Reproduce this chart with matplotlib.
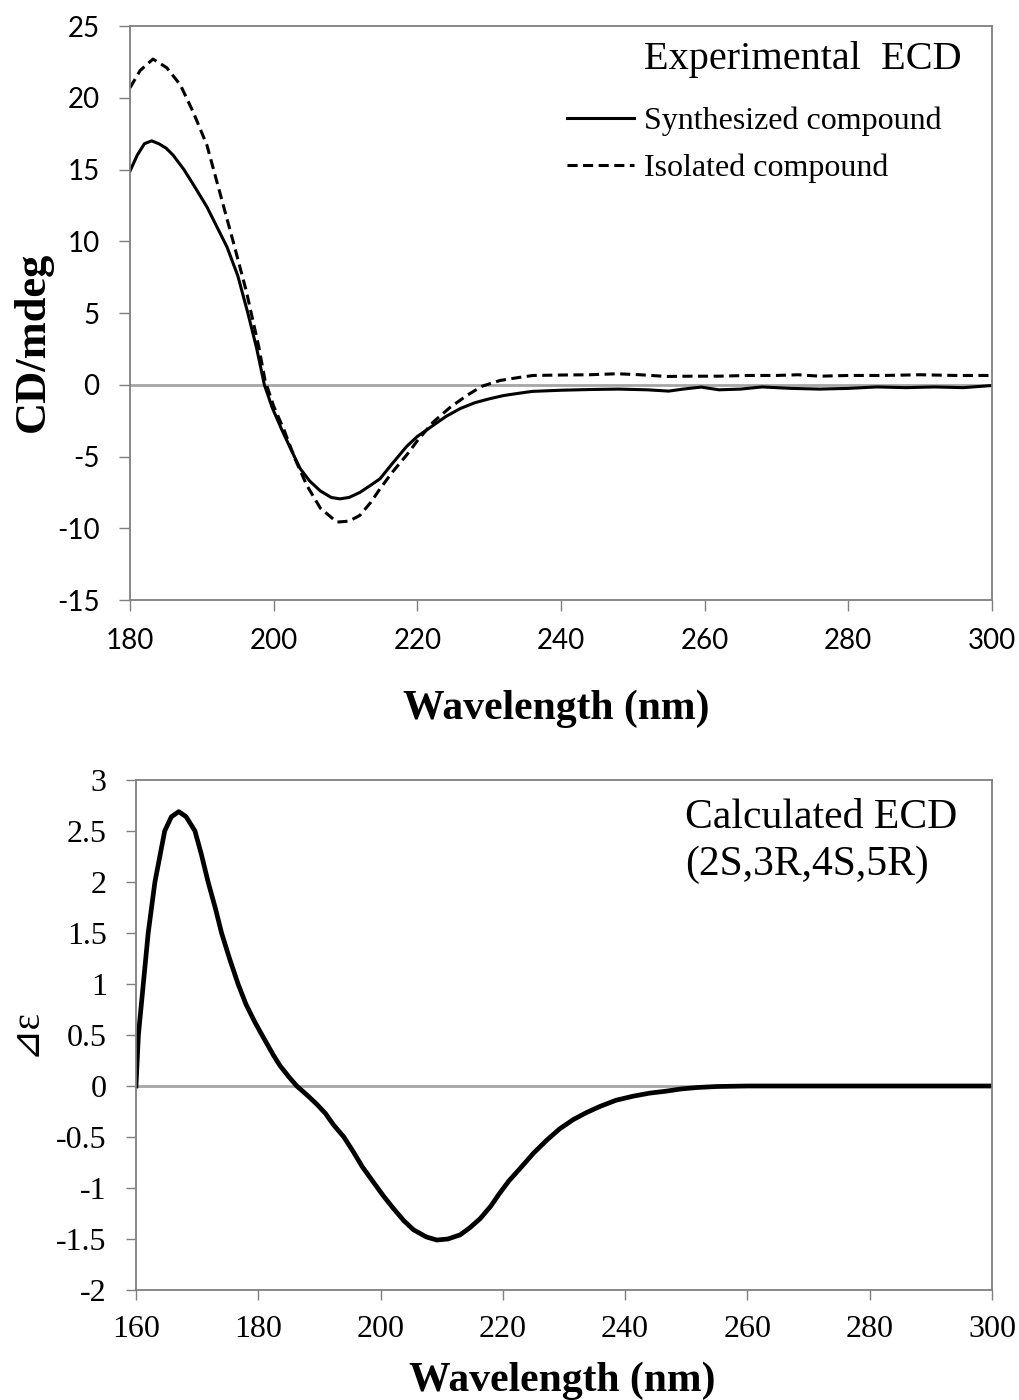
import matplotlib.pyplot as plt

plt.rcParams['axes.unicode_minus'] = False

# experimental ECD (mdeg)
wl_synth = [180, 181, 182, 183, 184, 185, 186, 187.5, 189, 190.7, 192, 193.5, 195, 196.4, 197.6,
            198.7, 199.8, 201.1, 202.4, 203.7, 205, 206.5, 208, 209.2, 210.5, 212, 213.5, 214.8,
            216.5, 218.5, 220, 222.2, 224, 226, 228, 230, 232, 234, 236, 240, 244, 248, 252, 255,
            257, 259.5, 262, 265, 268, 272, 276, 280, 284, 288, 292, 296, 300]
synth = [14.9, 16.0, 16.8, 17.0, 16.8, 16.5, 16.0, 15.0, 13.8, 12.4, 11.1, 9.6, 7.6, 5.0, 2.6,
         0.0, -1.6, -3.1, -4.5, -5.85, -6.7, -7.4, -7.85, -7.95, -7.85, -7.5, -7.0, -6.55, -5.5,
         -4.3, -3.6, -2.83, -2.2, -1.65, -1.25, -0.98, -0.75, -0.6, -0.46, -0.38, -0.33, -0.3,
         -0.35, -0.44, -0.3, -0.16, -0.35, -0.3, -0.15, -0.25, -0.3, -0.25, -0.15, -0.2, -0.15,
         -0.2, -0.05]

wl_isol = [180, 181.4, 183.2, 185.1, 187, 188.8, 190.7, 192.5, 194.4, 196.2, 197.9, 198.8, 200,
           201.4, 203, 204.6, 206.5, 208.8, 210.5, 212, 213.5, 214.8, 216.5, 218.5, 220, 222.2,
           224.5, 226.9, 229, 231.5, 234, 236.1, 240, 244, 247.8, 251, 254.7, 258, 262, 266, 270,
           273, 276, 280, 285, 290, 295, 300]
isol = [20.7, 21.9, 22.7, 22.1, 20.9, 19.0, 16.7, 13.4, 9.9, 6.5, 2.7, 0.3, -1.5, -3.1, -5.2, -7.0,
        -8.6, -9.57, -9.5, -9.1, -8.2, -7.25, -6.1, -4.9, -3.9, -2.6, -1.6, -0.74, -0.1, 0.3, 0.5,
        0.65, 0.68, 0.7, 0.77, 0.7, 0.58, 0.6, 0.6, 0.65, 0.65, 0.7, 0.6, 0.65, 0.65, 0.7, 0.65, 0.65]

# calculated ECD (delta epsilon)
wl_calc = [160, 160.4, 161.2, 162, 163.1, 164.7, 165.8, 167, 168.2, 169.65, 170.7, 171.8, 173,
           174, 175.3, 176.7, 178, 179.5, 180.8, 182.5, 183.55, 185, 186.3, 188, 189.6, 191,
           192.3, 194, 195.5, 197, 198.8, 200.5, 202.1, 203.8, 205.4, 207.5, 209.2, 211, 213,
           214.6, 216.3, 218, 219.5, 221, 222.8, 225, 227.2, 229.3, 231.5, 233.7, 235.9, 238.5,
           241.3, 244, 246.8, 249, 251.7, 255, 260, 280, 300]
calc = [0.0, 0.5, 1.0, 1.5, 2.0, 2.5, 2.64, 2.69, 2.64, 2.5, 2.27, 2.0, 1.74, 1.5, 1.25, 1.0,
        0.8, 0.62, 0.48, 0.3, 0.2, 0.09, 0.0, -0.09, -0.18, -0.27, -0.38, -0.5, -0.64, -0.79,
        -0.94, -1.08, -1.2, -1.32, -1.41, -1.48, -1.51, -1.5, -1.46, -1.39, -1.3, -1.18, -1.05,
        -0.93, -0.81, -0.66, -0.53, -0.42, -0.33, -0.26, -0.2, -0.14, -0.1, -0.07, -0.05, -0.03,
        -0.015, -0.005, 0.0, 0.0, 0.0]

sans = 'Lato'
serif = 'Liberation Serif'
spine_c = '#7f7f7f'

fig = plt.figure(figsize=(10.2, 14), dpi=100)

# ---- top panel
ax1 = fig.add_axes([0.1275, 0.5714, 0.845, 0.41])
ax1.axhline(0, color='#a6a6a6', lw=2, zorder=1)
ax1.plot(wl_synth, synth, color='black', lw=2.2, label='Synthesized compound')
ax1.plot(wl_isol, isol, color='black', lw=2.2, ls=(0, (3.3, 1.8)), label='Isolated compound')
ax1.set_xlim(180, 300)
ax1.set_ylim(-15, 25)
ax1.set_xticks(range(180, 301, 20))
ax1.set_yticks(range(-15, 26, 5))
for lab in ax1.get_xticklabels() + ax1.get_yticklabels():
    lab.set_fontfamily(sans)
    lab.set_fontsize(20)
ax1.tick_params(direction='out', length=8, width=1, color=spine_c, top=False, right=False)
ax1.tick_params(axis='x', pad=12)
ax1.tick_params(axis='y', pad=14)
for s in ax1.spines.values():
    s.set_color(spine_c)
    s.set_linewidth(1.3)
ax1.set_xlabel('Wavelength (nm)', fontfamily=serif, fontweight='bold', fontsize=30, va='center')
ax1.xaxis.set_label_coords(0.494, -0.19)
ax1.set_ylabel('CD/mdeg', fontfamily=serif, fontweight='bold', fontsize=32)
ax1.yaxis.set_label_coords(-0.09, 0.449)
ax1.text(0.965, 0.941, 'Experimental  ECD', transform=ax1.transAxes, ha='right', va='center',
         fontfamily=serif, fontsize=29)
ax1.legend(loc='upper left', bbox_to_anchor=(0.507, 0.86), frameon=False, borderpad=0,
           borderaxespad=0, handlelength=2.1, handletextpad=0.3, labelspacing=0.55,
           prop={'family': serif, 'size': 23})

# ---- bottom panel
ax2 = fig.add_axes([0.1333, 0.07857, 0.8392, 0.36429])
ax2.axhline(0, color='#a6a6a6', lw=2, zorder=1)
ax2.plot(wl_calc, calc, color='black', lw=3.4)
ax2.set_xlim(160, 300)
ax2.set_ylim(-2, 3)
ax2.set_xticks(range(160, 301, 20))
ax2.set_yticks([-2, -1.5, -1, -0.5, 0, 0.5, 1, 1.5, 2, 2.5, 3])
ax2.set_yticklabels(['-2', '-1.5', '-1', '-0.5', '0', '0.5', '1', '1.5', '2', '2.5', '3'])
for lab in ax2.get_xticklabels() + ax2.get_yticklabels():
    lab.set_fontfamily(serif)
    lab.set_fontsize(23)
ax2.tick_params(direction='out', length=7, width=1, color=spine_c, top=False, right=False)
ax2.tick_params(axis='x', pad=11)
ax2.tick_params(axis='y', pad=14)
for s in ax2.spines.values():
    s.set_color(spine_c)
    s.set_linewidth(1.3)
ax2.set_xlabel('Wavelength (nm)', fontfamily=serif, fontweight='bold', fontsize=30, va='center')
ax2.xaxis.set_label_coords(0.498, -0.177)
ax2.set_ylabel('⊿ε', family=[serif, 'DejaVu Sans'], fontsize=28)
ax2.yaxis.set_label_coords(-0.108, 0.506)
ax2.text(0.96, 0.88, 'Calculated ECD\n(2S,3R,4S,5R)', transform=ax2.transAxes, ha='right',
         va='center', fontfamily=serif, fontsize=30, linespacing=1.3, multialignment='left')

fig.savefig('out.png', dpi=100)
